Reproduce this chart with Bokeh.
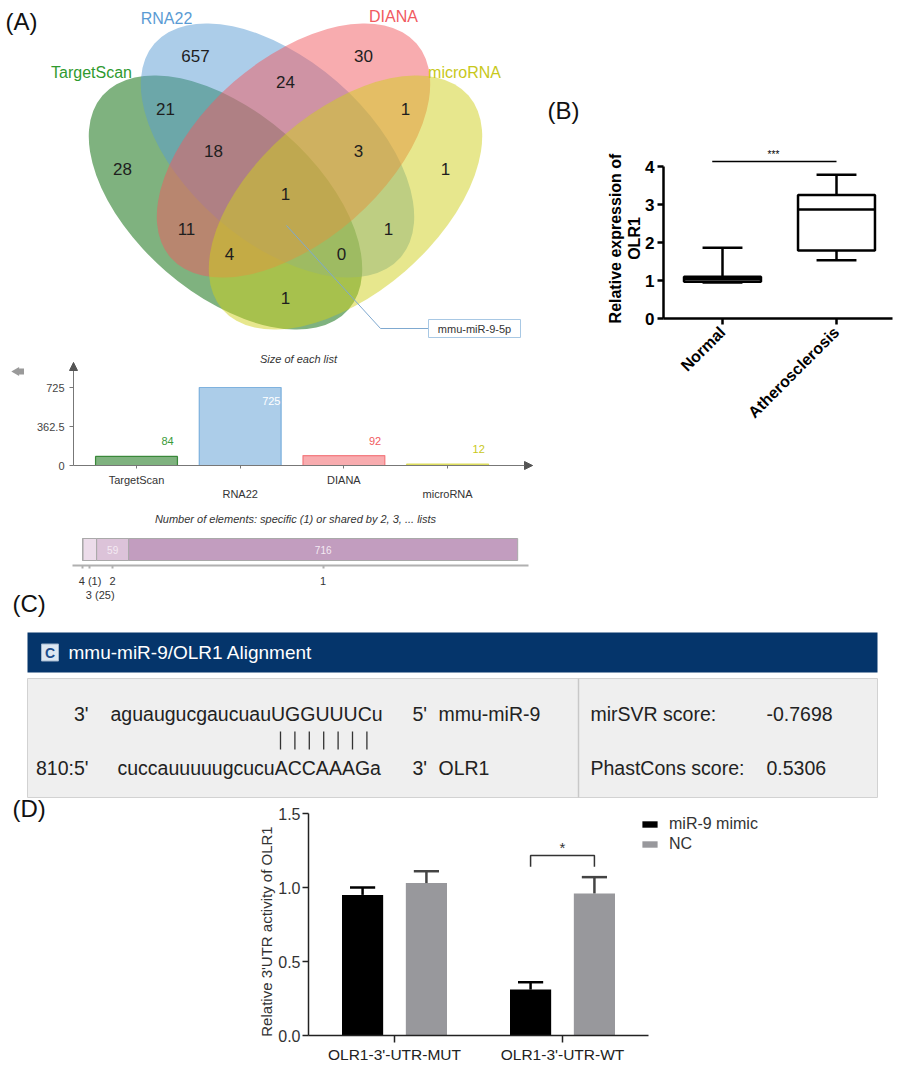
import math
from bokeh.plotting import figure
from bokeh.models import (Range1d, LinearAxis, FixedTicker, Arrow, NormalHead,
                          Legend, LegendItem)
from bokeh.core.properties import value
from bokeh.embed import file_html
from bokeh.resources import INLINE

FONT = "Liberation Sans"

# ------------------------------------------------------------------ data
venn_sets = ["TargetScan", "RNA22", "DIANA", "microRNA"]
venn_colors = ["#006600", "#5a9bd4", "#f15a60", "#cfcf1b"]
venn_label_colors = ["#2f9a2f", "#5a9bd4", "#f15a60", "#c8c81a"]
venn_region_counts = [657, 30, 21, 24, 1, 28, 18, 3, 1, 1, 11, 1, 4, 0, 1]
callout_name = "mmu-miR-9-5p"

list_sizes = [84, 725, 92, 12]
size_ticks = [0, 362.5, 725]

shared_by = [4, 3, 2, 1]
shared_counts = [1, 25, 59, 716]

b_groups = ["Normal", "Atherosclerosis"]
b_min = [0.95, 1.53]
b_q1 = [0.97, 1.79]
b_median = [1.03, 2.87]
b_q3 = [1.10, 3.25]
b_max = [1.86, 3.78]
b_ticks = [0, 1, 2, 3, 4]
b_sig = "***"

c_title = "mmu-miR-9/OLR1 Alignment"
mirna_name = "mmu-miR-9"
mirna_seq = "aguaugucgaucuauUGGUUUCu"
target_name = "OLR1"
target_seq = "cuccauuuuugcucuACCAAAGa"
target_pos = "810"
seed_pairs = 7
mirsvr_score = "-0.7698"
phastcons_score = "0.5306"

d_groups = ["OLR1-3'-UTR-MUT", "OLR1-3'-UTR-WT"]
d_series = ["miR-9 mimic", "NC"]
d_mimic = [0.95, 0.31]
d_mimic_sd = [0.05, 0.05]
d_nc = [1.03, 0.96]
d_nc_sd = [0.08, 0.11]
d_ticks = [0.0, 0.5, 1.0, 1.5]
d_sig = "*"

# ------------------------------------------------------------------ canvas
W, H = 900, 1066
X0, Y0 = 0, 0

p = figure(width=W, height=H, x_range=Range1d(X0, X0 + W), y_range=Range1d(Y0 + H, Y0),
           x_axis_type=None, y_axis_type=None, toolbar_location=None, tools="",
           output_backend="svg", min_border=0)
p.outline_line_color = None


def xrange_for(p0, k):
    return Range1d((X0 - p0) / k, (X0 + W - p0) / k)


def yrange_for(p0, k):
    # value v sits at pixel p0 - k * v
    return Range1d((p0 - (Y0 + H)) / k, (p0 - Y0) / k)


def txt(x, y, s, size, color="#222222", align="center", baseline="middle",
        style="normal", angle=0.0, **kw):
    if not isinstance(x, (list, tuple)):
        x, y, s = [x], [y], [s]
    return p.text(x=x, y=y, text=s, text_font=value(FONT), text_font_size=value(f"{size}px"),
                  text_color=color, text_align=align, text_baseline=baseline,
                  text_font_style=style, angle=angle, **kw)


def style_axis(ax, color, lw, size, label_color, bold=False, tick_out=5, standoff=4):
    ax.axis_line_color = color
    ax.axis_line_width = lw
    ax.major_tick_line_color = color
    ax.major_tick_line_width = lw
    ax.major_tick_out = tick_out
    ax.major_tick_in = 0
    ax.minor_tick_line_color = None
    ax.major_label_text_font = FONT
    ax.major_label_text_font_size = f"{size}px"
    ax.major_label_text_color = label_color
    ax.major_label_standoff = standoff
    if bold:
        ax.major_label_text_font_style = "bold"


# ================================================================== (A) Venn
txt(5, 21, "(A)", 24, "#111111", align="left")

ell_x = [225, 277, 293, 345]
ell_y = [202, 150, 150, 202]
ell_ang = [-41, -41, 41, 41]
p.ellipse(x=ell_x, y=ell_y, width=326, height=182,
          angle=[math.radians(a) for a in ell_ang],
          fill_color=venn_colors, fill_alpha=0.5, line_color=None)

name_x = [91, 166, 393, 464]
name_y = [72, 18, 16, 72]
p.text(x=name_x, y=name_y, text=venn_sets, text_color=venn_label_colors,
       text_font=value(FONT), text_font_size=value("16px"),
       text_align="center", text_baseline="middle")

region_x = [195, 363, 165, 285, 405, 122, 213, 358, 445, 285, 186, 388, 229, 341, 285]
region_y = [55, 55, 108, 81, 108, 168, 150, 150, 168, 193, 228, 228, 253, 253, 297]
txt(region_x, region_y, [str(c) for c in venn_region_counts], 17, "#1e1e1e")

p.line(x=[286, 380, 428], y=[225, 328, 328], line_color="#7fa9d0", line_width=1)
p.rect(x=[474], y=[328], width=92, height=18, fill_color="white", line_color="#a8c8e4")
txt(474, 328, callout_name, 11, "#333333")

# ================================================================== (A) size of each list
p.extra_x_ranges["sx"] = xrange_for(136, 103.7)
p.extra_y_ranges["sy"] = yrange_for(465, 78.0 / 725)
SX0, SX1 = (73 - 136) / 103.7, (532 - 136) / 103.7
S_TOP = (465 - 362) / (78.0 / 725)

p.scatter(x=[16], y=[371], marker="triangle", size=9, angle=math.pi / 2,
          fill_color="#9a9a9a", line_color=None)
p.rect(x=[21], y=[371], width=5, height=6, fill_color="#9a9a9a", line_color=None)
txt(298, 358, "Size of each list", 11, "#333333", style="italic")

idx = list(range(len(list_sizes)))
p.vbar(x=idx, top=list_sizes, width=0.79, fill_color=venn_colors, fill_alpha=0.5,
       line_color=venn_colors, line_alpha=0.7, line_width=1.2,
       x_range_name="sx", y_range_name="sy")
big = max(list_sizes)
val_colors = ["#3a9a3a", "white", "#f15a60", "#c8c81a"]
p.text(x=[i + 0.3 for i in idx], y=list_sizes, text=[str(v) for v in list_sizes],
       y_offset=[13 if v == big else -15 for v in list_sizes],
       text_color=val_colors, text_font=value(FONT), text_font_size=value("11px"),
       text_align="center", text_baseline="middle", x_range_name="sx", y_range_name="sy")

ya = LinearAxis(x_range_name="sx", y_range_name="sy", fixed_location=SX0, bounds=(0, S_TOP),
                ticker=FixedTicker(ticks=size_ticks),
                major_label_overrides={t: (f"{t:g}") for t in size_ticks})
style_axis(ya, "#777777", 1, 11, "#444444", tick_out=4, standoff=5)
p.add_layout(ya, "left")
xa = LinearAxis(x_range_name="sx", y_range_name="sy", fixed_location=0, bounds=(SX0, SX1),
                ticker=FixedTicker(ticks=idx),
                major_label_overrides={i: (venn_sets[i] if i % 2 == 0 else "\n" + venn_sets[i]) for i in idx})
style_axis(xa, "#777777", 1, 11, "#333333", tick_out=3, standoff=5)
p.add_layout(xa, "below")
p.add_layout(Arrow(x_start=SX0, y_start=S_TOP - 40, x_end=SX0, y_end=S_TOP,
                   end=NormalHead(size=8, fill_color="#555555", line_color="#555555"),
                   line_color="#777777", x_range_name="sx", y_range_name="sy"))
p.add_layout(Arrow(x_start=SX1 - 0.3, y_start=0, x_end=SX1, y_end=0,
                   end=NormalHead(size=8, fill_color="#555555", line_color="#555555"),
                   line_color="#777777", x_range_name="sx", y_range_name="sy"))

# ================================================================== (A) shared elements
p.extra_x_ranges["ex"] = xrange_for(82, 0.5433)
txt(295, 518, "Number of elements: specific (1) or shared by 2, 3, ... lists", 11, "#333333",
    style="italic")
lefts, acc = [], 0
for c in shared_counts:
    lefts.append(acc)
    acc += c
rights = [l + c for l, c in zip(lefts, shared_counts)]
centers = [(l + r) / 2 for l, r in zip(lefts, rights)]
elem_colors = ["#a07a9e", "#ecdcea", "#dcc3d9", "#c29dbf"]
p.hbar(y=549, left=lefts, right=rights, height=22, fill_color=elem_colors,
       line_color="#a9a9a9", line_width=1, x_range_name="ex")
inner = [i for i, c in enumerate(shared_counts) if c > 30]
p.text(x=[centers[i] for i in inner], y=[549] * len(inner),
       text=[str(shared_counts[i]) for i in inner], text_color="#f4eaf3",
       text_font=value(FONT), text_font_size=value("10px"), text_align="center",
       text_baseline="middle", x_range_name="ex")
ea = LinearAxis(x_range_name="ex", fixed_location=565, bounds=((72 - 82) / 0.5433, (528 - 82) / 0.5433),
                ticker=FixedTicker(ticks=centers))
style_axis(ea, "#b0b0b0", 2, 1, "white", tick_out=3)
ea.major_label_text_alpha = 0
p.add_layout(ea, "below")
small = [i for i, c in enumerate(shared_counts) if c <= 30]
p.text(x=[centers[i] for i in small], y=[580 + 14 * k for k, i in enumerate(small)],
       text=[f"{shared_by[i]} ({shared_counts[i]})" for i in small], text_color="#333333",
       text_font=value(FONT), text_font_size=value("11px"), text_align="left",
       text_baseline="middle", x_offset=-4, x_range_name="ex")
p.text(x=[centers[i] for i in inner], y=[580] * len(inner),
       text=[str(shared_by[i]) for i in inner], text_color="#333333",
       text_font=value(FONT), text_font_size=value("11px"), text_align="center",
       text_baseline="middle", x_range_name="ex")

# ================================================================== (B) box plot
p.extra_x_ranges["bx"] = xrange_for(722, 114)
p.extra_y_ranges["by"] = yrange_for(318, 38)
BX0, BX1 = (663 - 722) / 114, (892 - 722) / 114
txt(547, 110, "(B)", 24, "#111111", align="left")

bi = list(range(len(b_groups)))
BOXW, CAPW = 0.675, 0.35
kw = dict(x_range_name="bx", y_range_name="by")
p.segment(x0=bi, y0=b_q3, x1=bi, y1=b_max, line_color="black", line_width=2.5, **kw)
p.segment(x0=bi, y0=b_q1, x1=bi, y1=b_min, line_color="black", line_width=2.5, **kw)
p.segment(x0=[i - CAPW / 2 for i in bi], y0=b_max, x1=[i + CAPW / 2 for i in bi], y1=b_max,
          line_color="black", line_width=2.5, **kw)
p.segment(x0=[i - CAPW / 2 for i in bi], y0=b_min, x1=[i + CAPW / 2 for i in bi], y1=b_min,
          line_color="black", line_width=2.5, **kw)
p.vbar(x=bi, bottom=b_q1, top=b_q3, width=BOXW, fill_color="white", line_color="black",
       line_width=2.5, **kw)
p.segment(x0=[i - BOXW / 2 for i in bi], y0=b_median, x1=[i + BOXW / 2 for i in bi], y1=b_median,
          line_color="black", line_width=2.5, **kw)
p.segment(x0=[-0.09], y0=[4.13], x1=[1.0], y1=[4.13], line_color="black", line_width=1.5, **kw)
p.text(x=[0.447], y=[4.32], text=[b_sig], text_font=value(FONT), text_font_size=value("10px"),
       text_align="center", text_baseline="middle", text_color="black", **kw)

yb = LinearAxis(fixed_location=BX0, bounds=(0, 4), ticker=FixedTicker(ticks=b_ticks), **kw)
style_axis(yb, "black", 2.5, 17, "black", bold=True, tick_out=6, standoff=3)
p.add_layout(yb, "left")
xb = LinearAxis(fixed_location=0, bounds=(BX0, BX1), ticker=FixedTicker(ticks=bi),
                major_label_overrides={i: b_groups[i] for i in bi},
                major_label_orientation=math.pi / 4, **kw)
style_axis(xb, "black", 2.5, 16, "black", bold=True, tick_out=6, standoff=5)
p.add_layout(xb, "below")
txt([615, 634], [238, 238], ["Relative expression of", "OLR1"], 16, "black",
    style="bold", angle=math.pi / 2)

# ================================================================== (C) alignment
txt(12, 603, "(C)", 24, "#111111", align="left")
p.quad(left=[27], right=[877], top=[632], bottom=[672], fill_color="#05356b", line_color=None)
p.rect(x=[49.5], y=[652], width=17, height=17, fill_color="#dde7f2", line_color="#9fb4cc")
txt(49.5, 652, "C", 14, "#1e4d8c", style="bold")
txt(68, 652, c_title, 19, "white", align="left")
p.quad(left=[27], right=[877], top=[678], bottom=[797], fill_color="#efefef", line_color="#d2d2d2")
p.segment(x0=[578], y0=[678], x1=[578], y1=[797], line_color="#c8c8c8", line_width=1.5)

R1, R2 = 713, 767
txt([88, 88], [R1, R2], ["3'", f"{target_pos}:5'"], 19.5, "#222222", align="right")
txt([110, 117], [R1, R2], [mirna_seq, target_seq], 19.5, "#222222", align="left")
txt([412, 412], [R1, R2], ["5'", "3'"], 19.5, "#222222", align="left")
txt([438, 438], [R1, R2], [mirna_name, target_name], 19.5, "#222222", align="left")
txt([590, 590], [R1, R2], ["mirSVR score:", "PhastCons score:"], 19.5, "#222222", align="left")
txt([766, 766], [R1, R2], [mirsvr_score, phastcons_score], 19.5, "#222222", align="left")
bar_x = [280 + 14.4 * k for k in range(seed_pairs)]
p.segment(x0=bar_x, y0=[731] * seed_pairs, x1=bar_x, y1=[749] * seed_pairs,
          line_color="#333333", line_width=1.3)

# ================================================================== (D) luciferase bars
txt(12, 808, "(D)", 24, "#111111", align="left")
p.extra_x_ranges["dx"] = xrange_for(394, 168)
p.extra_y_ranges["dy"] = yrange_for(1035, 148)
DX0, DX1 = (308 - 394) / 168, (648 - 394) / 168
dk = dict(x_range_name="dx", y_range_name="dy")
OFF, BW, CW = 0.19, 0.245, 0.15
di = list(range(len(d_groups)))
xm = [i - OFF for i in di]
xn = [i + OFF for i in di]
r_m = p.vbar(x=xm, top=d_mimic, width=BW, fill_color="black", line_color=None, **dk)
r_n = p.vbar(x=xn, top=d_nc, width=BW, fill_color="#98989c", line_color=None, **dk)
for xs, tops, sds, col in [(xm, d_mimic, d_mimic_sd, "black"), (xn, d_nc, d_nc_sd, "#444444")]:
    ends = [t + s for t, s in zip(tops, sds)]
    p.segment(x0=xs, y0=tops, x1=xs, y1=ends, line_color=col, line_width=2.5, **dk)
    p.segment(x0=[x - CW / 2 for x in xs], y0=ends, x1=[x + CW / 2 for x in xs], y1=ends,
              line_color=col, line_width=2.5, **dk)
p.line(x=[xm[1], xm[1], xn[1], xn[1]], y=[1.14, 1.216, 1.216, 1.14], line_color="#333333",
       line_width=1.5, **dk)
p.text(x=[1.0], y=[1.27], text=[d_sig], text_font=value(FONT), text_font_size=value("15px"),
       text_align="center", text_baseline="middle", text_color="#333333", **dk)

yd = LinearAxis(fixed_location=DX0, bounds=(0, 1.5), ticker=FixedTicker(ticks=d_ticks),
                major_label_overrides={t: f"{t:.1f}" for t in d_ticks}, **dk)
style_axis(yd, "#222222", 1.5, 16, "#333333", tick_out=6, standoff=2)
p.add_layout(yd, "left")
xd = LinearAxis(fixed_location=0, bounds=(DX0, DX1), ticker=FixedTicker(ticks=di),
                major_label_overrides={i: d_groups[i] for i in di}, **dk)
style_axis(xd, "#222222", 1.5, 15.5, "#222222", tick_out=7, standoff=3)
p.add_layout(xd, "below")
txt(266, 931, "Relative 3'UTR activity of OLR1", 15, "#333333", angle=math.pi / 2)

legend = Legend(items=[LegendItem(label=d_series[0], renderers=[r_m]),
                       LegendItem(label=d_series[1], renderers=[r_n])],
                location=(640, 212), orientation="vertical", padding=0, margin=0, spacing=0,
                label_height=20, glyph_height=8, glyph_width=19, label_standoff=10,
                label_text_font=FONT, label_text_font_size="16px", label_text_color="#333333",
                border_line_color=None, background_fill_alpha=0)
p.add_layout(legend)

open("out.html", "w").write(file_html(p, INLINE))
